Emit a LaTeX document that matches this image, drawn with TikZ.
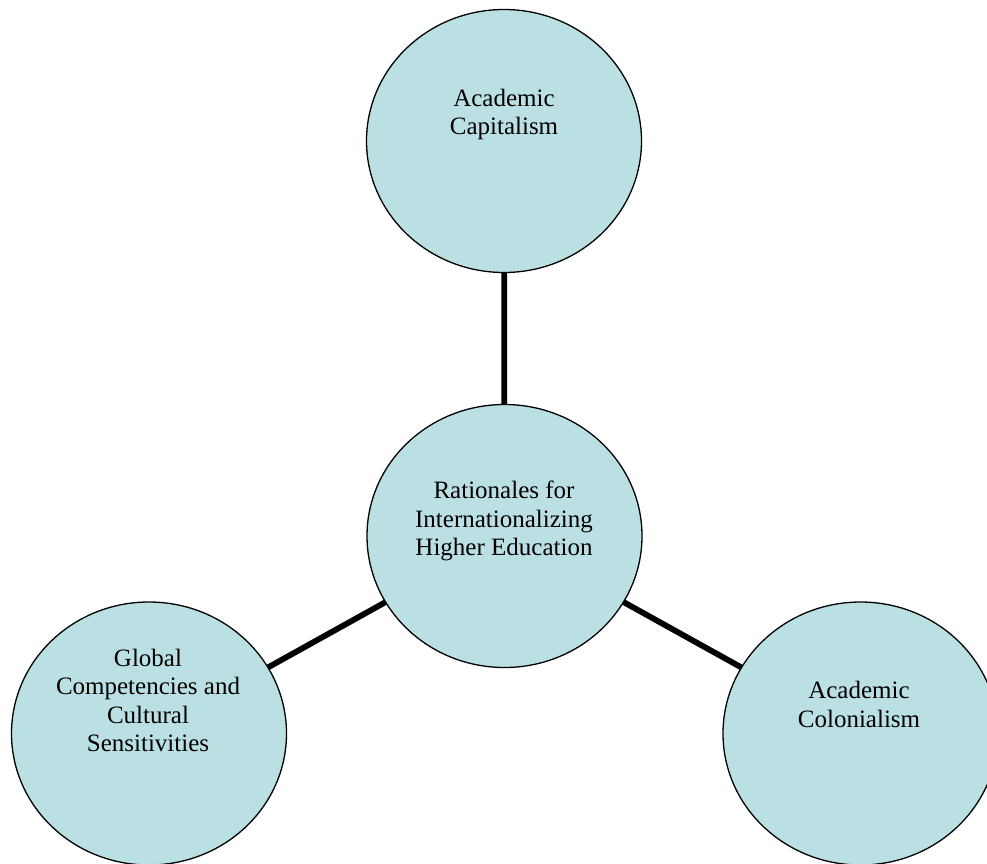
\documentclass[tikz,border=0pt]{standalone}
\usepackage{fontspec}
\setmainfont{Liberation Serif}
\usetikzlibrary{shapes.geometric}
\definecolor{bubble}{RGB}{187,224,227}
\tikzset{
  bubble/.style={ellipse, draw=black, line width=1.3pt, fill=bubble,
    inner sep=0pt, outer sep=0pt, minimum width=275pt, minimum height=263pt},
  bubbletext/.style={align=center, font=\fontsize{25}{28.5}\selectfont, inner sep=0pt},
  link/.style={line width=5.8pt, black}
}
\begin{document}
\begin{tikzpicture}[x=1pt,y=-1pt]
\useasboundingbox (0,0) rectangle (987,863);
\clip (0,0) rectangle (987,863);
\fill[white] (0,0) rectangle (987,863);
\node[bubble] (top) at (504,141) {};
\node[bubble] (mid) at (504.5,536) {};
\node[bubble] (left) at (149,733.5) {};
\node[bubble] (right) at (860.5,733.5) {};
\draw[link] (mid) -- (top);
\draw[link] (mid) -- (left);
\draw[link] (mid) -- (right);
\node[bubbletext] (ttop) at (504,114.5) {Academic\\Capitalism};
\node[bubbletext] (tmid) at (504,521) {Rationales for\\Internationalizing\\Higher Education};
\node[bubbletext] (tleft) at (148,700.5) {Global\\Competencies and\\Cultural\\Sensitivities};
\node[bubbletext] (tright) at (859,704.5) {Academic\\Colonialism};
\end{tikzpicture}
\end{document}
